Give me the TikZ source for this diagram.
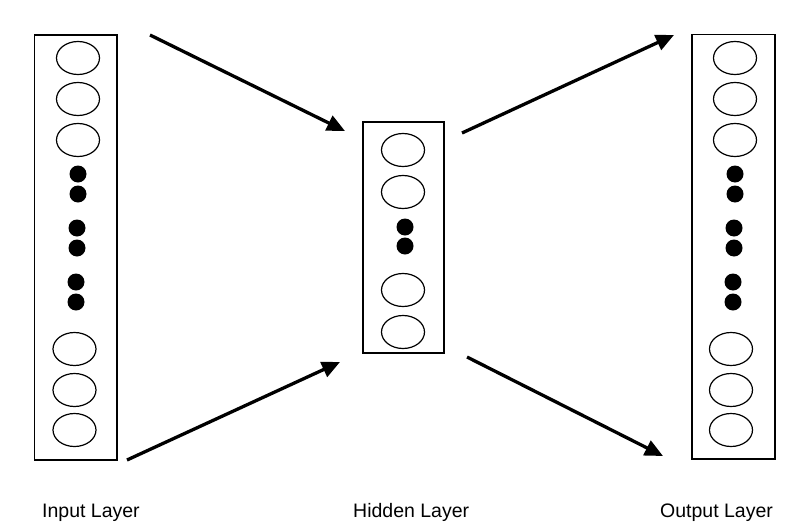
\documentclass[tikz,border=0pt]{standalone}
\usepackage{fontspec}
\setmainfont{Liberation Sans}
\usetikzlibrary{shapes.geometric,arrows.meta}
\begin{document}
\begin{tikzpicture}[x=1pt,y=-1pt,
  layerbox/.style={draw=black,line width=1.3pt},
  neuron/.style={draw=black,line width=1.2pt,ellipse,minimum width=43pt,minimum height=33pt,inner sep=0pt},
  blackdot/.style={fill=black,circle,minimum size=17pt,inner sep=0pt},
  flow/.style={line width=3.3pt,-{Triangle[length=18pt,width=16pt]}},
  lbl/.style={font=\fontsize{19.5pt}{22pt}\selectfont,anchor=base west,inner sep=0pt}]
\useasboundingbox (0,0) rectangle (789,530);
% boxes
\draw[layerbox] (34.5,35) rectangle (117,460);
\draw[layerbox] (363,122) rectangle (444,353);
\draw[layerbox] (692,34.5) rectangle (775,459);
% input layer
\node[neuron] (i1) at (78,58) {};
\node[neuron] (i2) at (78,99) {};
\node[neuron] (i3) at (78,140) {};
\node[blackdot] (id1) at (78,174) {};
\node[blackdot] (id2) at (78,194) {};
\node[blackdot] (id3) at (77,228) {};
\node[blackdot] (id4) at (77,248) {};
\node[blackdot] (id5) at (76,282) {};
\node[blackdot] (id6) at (76,302) {};
\node[neuron] (i4) at (74.5,349) {};
\node[neuron] (i5) at (74.5,390) {};
\node[neuron] (i6) at (74.5,430) {};
% hidden layer
\node[neuron] (h1) at (403,150) {};
\node[neuron] (h2) at (403,192) {};
\node[blackdot] (hd1) at (405,227) {};
\node[blackdot] (hd2) at (405,246) {};
\node[neuron] (h3) at (403,290) {};
\node[neuron] (h4) at (403,332) {};
% output layer
\node[neuron] (o1) at (735,58) {};
\node[neuron] (o2) at (735,99) {};
\node[neuron] (o3) at (735,140) {};
\node[blackdot] (od1) at (735,174) {};
\node[blackdot] (od2) at (735,194) {};
\node[blackdot] (od3) at (734,228) {};
\node[blackdot] (od4) at (734,248) {};
\node[blackdot] (od5) at (733,282) {};
\node[blackdot] (od6) at (733,302) {};
\node[neuron] (o4) at (731,349) {};
\node[neuron] (o5) at (731,390) {};
\node[neuron] (o6) at (731,430) {};
% arrows
\coordinate (a1s) at (150,35);
\coordinate (a1e) at (345,131);
\coordinate (a2s) at (127,460);
\coordinate (a2e) at (340,362);
\coordinate (a3s) at (462,133);
\coordinate (a3e) at (674,35);
\coordinate (a4s) at (467,357);
\coordinate (a4e) at (663,456);
\draw[flow] (a1s) -- (a1e);
\draw[flow] (a2s) -- (a2e);
\draw[flow] (a3s) -- (a3e);
\draw[flow] (a4s) -- (a4e);
% labels
\node[lbl] (lin) at (42,517) {Input Layer};
\node[lbl] (lhid) at (353,517) {Hidden Layer};
\node[lbl] (lout) at (660,517) {Output Layer};
\end{tikzpicture}
\end{document}
